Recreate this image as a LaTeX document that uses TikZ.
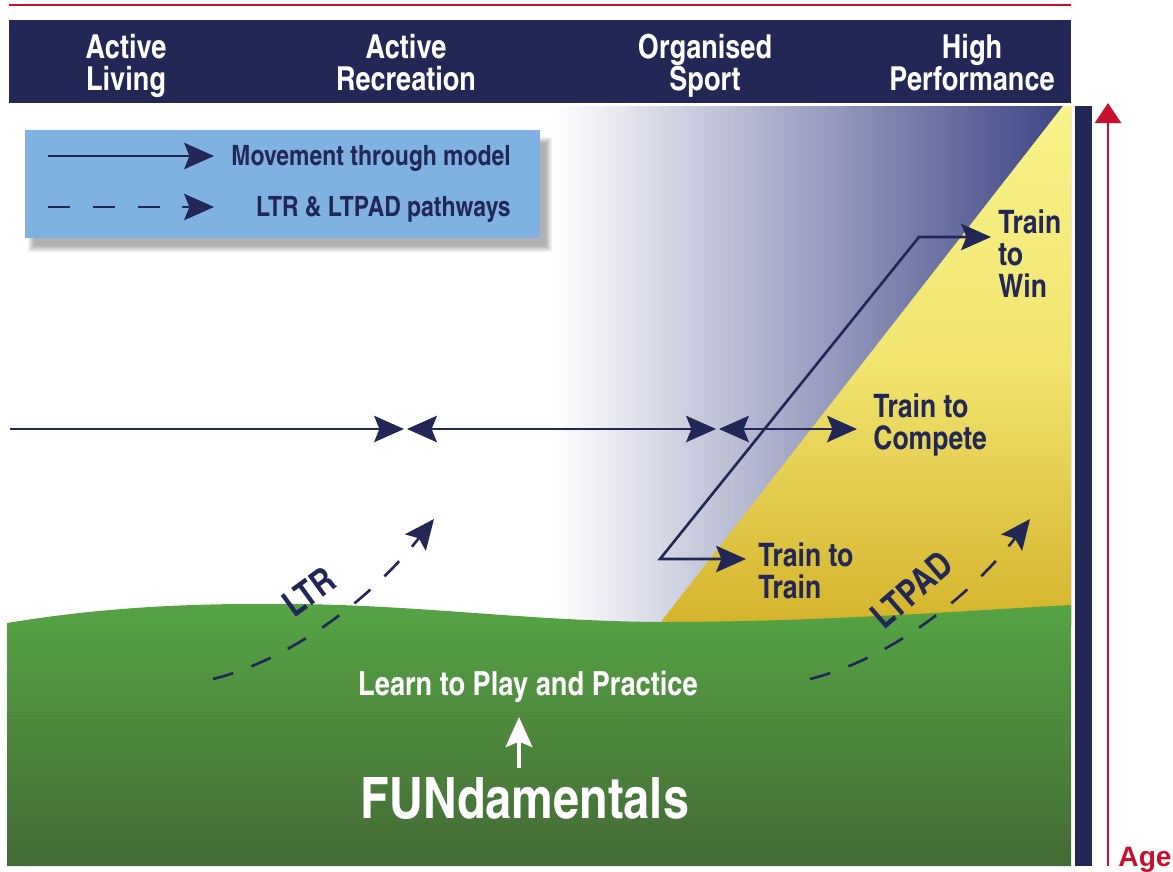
\documentclass[tikz,border=0pt]{standalone}
\usepackage{fontspec}
\setmainfont{texgyreheroscn}[Extension=.otf, UprightFont=*-bold, BoldFont=*-bold]
\newfontfamily\agefont{Liberation Sans}
\usetikzlibrary{arrows.meta, positioning}

\definecolor{darknavy}{HTML}{222756}
\definecolor{agered}{HTML}{C8102E}
\definecolor{legendblue}{HTML}{7FB1E1}
\definecolor{hazeend}{HTML}{3A4283}
\definecolor{ylwtop}{HTML}{F9F38A}
\definecolor{ylwmid}{HTML}{F1E46F}
\definecolor{ylwbot}{HTML}{D4B42C}
\definecolor{grntop}{HTML}{56A445}
\definecolor{grnbot}{HTML}{446A35}

\tikzset{
>={Stealth[length=17pt, width=15pt, inset=3pt]}, % big notched heads everywhere
route/.style={darknavy, line width=1.5pt}, % movement through the model
pathway/.style={route, dash pattern=on 12pt off 11pt}, % LTR / LTPAD
level/.style={font=\fontsize{18.8}{18.2}\selectfont, text=white, align=center, inner sep=0pt},
stage/.style={font=\fontsize{18.4}{18.2}\selectfont, text=darknavy, align=left, inner sep=0pt},
key/.style={font=\fontsize{15.9}{16}\selectfont, text=darknavy, inner sep=0pt},
}
\newcommand{\wtxt}[1]{\textcolor{white}{#1}}

\begin{document}
\begin{tikzpicture}[x=0.02cm, y=-0.02cm]% one unit is one pixel, y runs down
  \useasboundingbox (0,0) rectangle (1173,872);

  % backdrop: haze, yellow wedge, green hill
  \shade[left color=white, right color=hazeend] (555,106) rectangle (1071,626);
  \shade[top color=ylwtop, bottom color=ylwbot, middle color=ylwmid]
    (660,623) -- (1063,106) -- (1071,106) -- (1071,623) -- cycle;
  \shade[top color=grntop, bottom color=grnbot]
    (7,623) .. controls (110,606) and (200,603) .. (300,604)
            .. controls (430,606) and (530,621) .. (660,622)
            .. controls (820,622) and (960,611) .. (1071,605)
    -- (1071,866) -- (7,866) -- cycle;

  % header band (base = last line)
  \draw[agered, line width=1.4pt] (9,5) -- (1071,5);
  \fill[darknavy] (9,20) rectangle (1071,103);
  \node[level, anchor=base] (living) at (126,90) {Active\\Living};
  \node[level, anchor=base] (recreation) at (406,90) {Active\\Recreation};
  \node[level, anchor=base] (sport) at (705,90) {Organised\\Sport};
  \node[level, anchor=base] (performance) at (972,90) {High\\Performance};

  % age scale
  \fill[darknavy] (1075,106) rectangle (1092,866);
  \coordinate (agefoot) at (1108,866);
  \coordinate (agetop) at (1108,103);
  \draw[agered, line width=1.3pt, -{Triangle[length=11.5pt, width=15pt]}] (agefoot) -- (agetop);
  \node[anchor=base, inner sep=0pt, text=agered, font=\agefont\bfseries\fontsize{16}{16}\selectfont] (age) at (1145,866) {Age};

  % legend, with a soft shadow
  \foreach \g in {0,...,6}
    \fill[black, opacity=0.05] (28+\g,137+\g) rectangle (552-\g,252-\g);
  \node[fill=legendblue, anchor=north west, inner sep=0pt, minimum width=10.3cm, minimum height=2.16cm] (legend) at (25,130) {};
  \coordinate (k1a) at (48,156);
  \coordinate (k1b) at (214,156);
  \coordinate (k2a) at (48,207);
  \coordinate (k2b) at (214,207);
  \draw[route, line width=1.2pt, ->] (k1a) -- (k1b);
  \draw[route, line width=1.2pt, dash pattern=on 12.5pt off 13pt, ->] (k2a) -- (k2b);
  \node[key, anchor=base east] (k1) at (511,165) {Movement through model};
  \node[key, anchor=base east] (k2) at (511,216) {LTR \& LTPAD pathways};

  % movement across the levels
  \coordinate (start) at (10,429);
  \coordinate (recL) at (404,429);
  \coordinate (recR) at (407,429);
  \coordinate (sptL) at (716,429);
  \coordinate (sptR) at (719,429);
  \coordinate (cmp) at (857,429);
  \draw[route, ->] (start) -- (recL);
  \draw[route, <->] (recR) -- (sptL);
  \draw[route, <->] (sptR) -- (cmp);

  % up through the stages
  \coordinate (trn) at (746,559);
  \coordinate (kneeL) at (660,559);
  \coordinate (kneeR) at (919,237);
  \coordinate (win) at (991,237);
  \draw[route, <->] (trn) -- (kneeL) -- (kneeR) -- (win);

  \node[stage, anchor=base west] (t2t) at (758,598) {Train to\\Train};
  \node[stage, anchor=base west] (t2c) at (873,449) {Train to\\Compete};
  \node[stage, anchor=base west] (t2w) at (998,297) {Train\\to\\Win};

  % LTR and LTPAD pathways
  \coordinate (ltr0) at (213,679);
  \coordinate (ltr1) at (434,519);
  \coordinate (pad0) at (810,679);
  \coordinate (pad1) at (1030,519);
  \draw[pathway, ->] (ltr0) .. controls (290,660) and (370,600) .. (ltr1);
  \draw[pathway, ->] (pad0) .. controls (887,660) and (967,600) .. (pad1);
  \node[stage, font=\fontsize{20.5}{20}\selectfont, rotate=36] (ltr) at (309,592) {LTR};
  \node[stage, font=\fontsize{20.5}{20}\selectfont, rotate=41] (ltpad) at (912,590) {LTPAD};

  % foundations
  \node[anchor=base, inner sep=0pt, font=\fontsize{18.9}{19}\selectfont] (lpp) at (528,695) {\wtxt{Learn to Play and Practice}};
  \node[anchor=base, inner sep=0pt, font=\fontsize{32.5}{32}\selectfont] (fun) at (525,818) {\wtxt{FUNdamentals}};
  \coordinate (funfoot) at (519,768);
  \coordinate (funtip) at (519,717);
  \draw[white, line width=2.8pt, ->] (funfoot) -- (funtip);
\end{tikzpicture}
\end{document}
